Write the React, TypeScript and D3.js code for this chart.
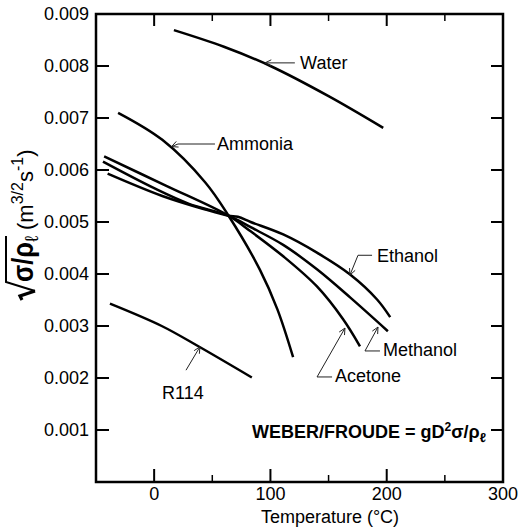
import React from "react";
import * as d3 from "d3";

// Temperature (°C) and sqrt(sigma/rho_l) (m^{3/2} s^{-1}) for each fluid
const waterT = [17, 60, 100, 150, 197];
const waterV = [0.00869, 0.00837, 0.008, 0.00742, 0.00681];

const ammoniaT = [-31, 7, 44, 64, 91, 106, 119.5];
const ammoniaV = [0.0071, 0.00658, 0.00576, 0.00512, 0.00408, 0.00332, 0.0024];

const acetoneT = [-43, 10, 64, 83, 111, 140, 162.5, 177];
const acetoneV = [0.00626, 0.0057, 0.00512, 0.00482, 0.00434, 0.00376, 0.00313, 0.00261];

const methanolT = [-44, 0, 30, 64, 83, 111, 140, 168.5, 201];
const methanolV = [0.00616, 0.00565, 0.00535, 0.00512, 0.0049, 0.00456, 0.00409, 0.00355, 0.0029];

const ethanolT = [-40, 7, 44, 64, 72, 83, 111, 140, 168.5, 191.7, 203];
const ethanolV = [0.00593, 0.0055, 0.00524, 0.00512, 0.0051, 0.005, 0.00476, 0.00441, 0.00399, 0.00351, 0.00317];

const r114T = [-38, 6.5, 38, 84];
const r114V = [0.00343, 0.003, 0.00261, 0.00201];

const seriesList = [
  { name: "Water", t: waterT, v: waterV },
  { name: "Ammonia", t: ammoniaT, v: ammoniaV },
  { name: "Acetone", t: acetoneT, v: acetoneV },
  { name: "Methanol", t: methanolT, v: methanolV },
  { name: "Ethanol", t: ethanolT, v: ethanolV },
  { name: "R114", t: r114T, v: r114V },
];

// Axis ticks
const xMajorTicks = [0, 100, 200, 300];
const xMinorTicks = [50, 150, 250];
const yTicks = [0.001, 0.002, 0.003, 0.004, 0.005, 0.006, 0.007, 0.008, 0.009];

// Callouts in data units: arrow tip, optional elbow, leader end, label anchor
const callouts = [
  { text: "Water", tip: [95.3, 0.00806], elbow: null, end: [121, 0.00806], label: [125.5, 0.00806] },
  { text: "Ammonia", tip: [15, 0.00645], elbow: [20.5, 0.0065], end: [52.3, 0.0065], label: [54.1, 0.0065] },
  { text: "Ethanol", tip: [168.4, 0.00398], elbow: [175.3, 0.00436], end: [187.4, 0.00436], label: [191.7, 0.00436] },
  { text: "Methanol", tip: [192.5, 0.00298], elbow: [181.3, 0.00252], end: [194.2, 0.00252], label: [196.8, 0.00254] },
  { text: "Acetone", tip: [164.1, 0.00296], elbow: [140.1, 0.00202], end: [153, 0.00202], label: [155.5, 0.00204] },
  { text: "R114", tip: [39.4, 0.0026], elbow: null, end: [27.4, 0.00215], label: [6.8, 0.00173] },
];

const W = 519;
const H = 529;
const left = 96;
const right = 503;
const top = 14;
const bottom = 482;
const FONT = "'Liberation Sans', Arial, Helvetica, sans-serif";

export default function App() {
  const x = d3.scaleLinear().domain([-50, 300]).range([left, right]);
  const y = d3.scaleLinear().domain([0, 0.009]).range([bottom, top]);

  const line = d3
    .line<[number, number]>()
    .x((d) => x(d[0]))
    .y((d) => y(d[1]))
    .curve(d3.curveCatmullRom.alpha(0.5));

  const arrowHead = (tip: number[], from: number[]) => {
    const tx = x(tip[0]);
    const ty = y(tip[1]);
    const fx = x(from[0]);
    const fy = y(from[1]);
    const ang = Math.atan2(fy - ty, fx - tx);
    const len = 7;
    const spread = 0.45;
    const a1 = [tx + len * Math.cos(ang + spread), ty + len * Math.sin(ang + spread)];
    const a2 = [tx + len * Math.cos(ang - spread), ty + len * Math.sin(ang - spread)];
    return `M${a1[0]},${a1[1]}L${tx},${ty}L${a2[0]},${a2[1]}`;
  };

  return (
    <svg
      width={W}
      height={H}
      style={{ position: "absolute", left: 0, top: 0, background: "#fff" }}
      fontFamily={FONT}
    >
      <rect x={0} y={0} width={W} height={H} fill="#fff" />

      {/* curves */}
      {seriesList.map((s) => (
        <path
          key={s.name}
          d={line(s.t.map((t, i) => [t, s.v[i]] as [number, number])) || ""}
          fill="none"
          stroke="#000"
          strokeWidth={2.5}
          strokeLinecap="butt"
        />
      ))}

      {/* frame */}
      <rect x={left} y={top} width={right - left} height={bottom - top} fill="none" stroke="#000" strokeWidth={2.5} />

      {/* y ticks on both sides */}
      {yTicks.map((t) => (
        <g key={"y" + t}>
          {t < 0.009 && (
            <>
              <line x1={left} x2={left + 13} y1={y(t)} y2={y(t)} stroke="#000" strokeWidth={2} />
              <line x1={right} x2={right - 12} y1={y(t)} y2={y(t)} stroke="#000" strokeWidth={2} />
            </>
          )}
          <text x={left - 7} y={y(t)} dy="0.36em" textAnchor="end" fontSize={18}>
            {d3.format(".3f")(t)}
          </text>
        </g>
      ))}

      {/* x ticks top and bottom */}
      {xMajorTicks.map((t) => (
        <g key={"x" + t}>
          {t < 300 && (
            <>
              <line x1={x(t)} x2={x(t)} y1={bottom} y2={bottom - 13} stroke="#000" strokeWidth={2} />
              <line x1={x(t)} x2={x(t)} y1={top} y2={top + 12} stroke="#000" strokeWidth={2} />
            </>
          )}
          <text x={x(t)} y={500} textAnchor="middle" fontSize={18}>
            {t}
          </text>
        </g>
      ))}
      {xMinorTicks.map((t) => (
        <g key={"xm" + t}>
          <line x1={x(t)} x2={x(t)} y1={bottom} y2={bottom - 7} stroke="#000" strokeWidth={1.5} />
          <line x1={x(t)} x2={x(t)} y1={top} y2={top + 7} stroke="#000" strokeWidth={1.5} />
        </g>
      ))}

      {/* x axis title */}
      <text x={330} y={523} textAnchor="middle" fontSize={18}>
        Temperature (°C)
      </text>

      {/* y axis title */}
      <g transform="translate(33,300) rotate(-90)">
        <path d="M0,-11 L4,-13 L9,2" fill="none" stroke="#000" strokeWidth={3.2} strokeLinejoin="miter" />
        <path d="M9,2 L18,-27 L64,-27" fill="none" stroke="#000" strokeWidth={2} />
        <text x={18} y={0} fontSize={30} fontWeight="bold" textLength={40} lengthAdjust="spacingAndGlyphs">
          σ/ρ
        </text>
        <text x={58} y={5} fontSize={19}>
          ℓ
        </text>
        <text x={70} y={0} fontSize={22}>
          (m
          <tspan fontSize={16} dy={-10}>
            3/2
          </tspan>
          <tspan dy={10}>s</tspan>
          <tspan fontSize={16} dy={-10}>
            -1
          </tspan>
          <tspan dy={10}>)</tspan>
        </text>
      </g>

      {/* callouts */}
      {callouts.map((c) => {
        const pts = [c.tip, ...(c.elbow ? [c.elbow] : []), c.end];
        const d = "M" + pts.map((p) => `${x(p[0])},${y(p[1])}`).join("L");
        const from = c.elbow ? c.elbow : c.end;
        return (
          <g key={c.text}>
            <path d={d} fill="none" stroke="#222" strokeWidth={1} />
            <path d={arrowHead(c.tip, from)} fill="none" stroke="#222" strokeWidth={1} />
            <text x={x(c.label[0])} y={y(c.label[1])} dy="0.36em" fontSize={18}>
              {c.text}
            </text>
          </g>
        );
      })}

      {/* dimensionless group note */}
      <text x={252} y={438} fontSize={18} fontWeight="bold">
        WEBER/FROUDE = gD
        <tspan fontSize={12} dy={-7}>
          2
        </tspan>
        <tspan dy={7}>σ/ρ</tspan>
        <tspan fontSize={13} dy={4}>
          ℓ
        </tspan>
      </text>
    </svg>
  );
}
